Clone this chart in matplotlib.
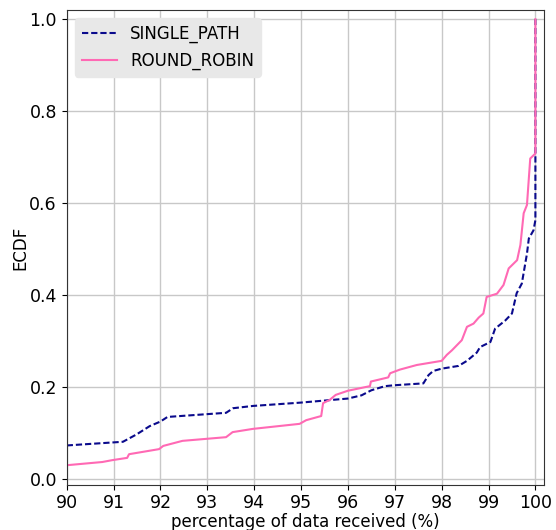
import matplotlib
matplotlib.use("Agg")
import matplotlib.pyplot as plt

# percentage of data received vs. ECDF for each scheduler
sp_x = [90.0, 91.2, 91.49, 91.77, 92.0, 92.15, 93.4, 93.55, 93.98, 94.97, 96.0, 96.29,
        96.5, 96.79, 97.0, 97.61, 97.72, 97.82, 98.0, 98.36, 98.54, 98.75, 98.82,
        99.04, 99.14, 99.36, 99.5, 99.6, 99.71, 99.82, 99.86, 99.96, 100.0, 100.0, 100.0]
sp_y = [0.073, 0.081, 0.097, 0.115, 0.125, 0.135, 0.144, 0.154, 0.159, 0.166, 0.175, 0.182,
        0.193, 0.202, 0.204, 0.208, 0.226, 0.235, 0.240, 0.246, 0.257, 0.275, 0.287,
        0.298, 0.327, 0.345, 0.360, 0.404, 0.425, 0.490, 0.523, 0.541, 0.563, 0.708, 1.0]

rr_x = [90.0, 90.76, 90.97, 91.29, 91.33, 91.97, 92.06, 92.47, 93.4, 93.54, 93.97, 94.97,
        95.11, 95.43, 95.47, 95.61, 95.74, 96.0, 96.47, 96.49, 96.86, 96.9, 97.11, 97.47,
        98.0, 98.11, 98.22, 98.43, 98.54, 98.68, 98.79, 98.89, 98.96, 99.18, 99.32, 99.43,
        99.61, 99.68, 99.75, 99.82, 99.89, 100.0, 100.0]
rr_y = [0.030, 0.037, 0.041, 0.046, 0.054, 0.065, 0.072, 0.083, 0.091, 0.102, 0.109, 0.120,
        0.128, 0.137, 0.165, 0.172, 0.183, 0.192, 0.202, 0.212, 0.221, 0.230, 0.238, 0.248,
        0.257, 0.270, 0.280, 0.302, 0.331, 0.338, 0.351, 0.360, 0.396, 0.403, 0.422, 0.458,
        0.476, 0.509, 0.578, 0.596, 0.697, 0.708, 1.0]

x_ticks = [90, 91, 92, 93, 94, 95, 96, 97, 98, 99, 100]
y_ticks = [0.0, 0.2, 0.4, 0.6, 0.8, 1.0]

fig = plt.figure(figsize=(5.56, 5.30), dpi=100)
ax = fig.add_axes([66.7 / 556, 1 - 485 / 530, (544.3 - 66.7) / 556, (485 - 10) / 530])

ax.plot(sp_x, sp_y, color="#0a0a8c", linestyle=(0, (3.0, 1.4)), linewidth=1.5,
        label="SINGLE_PATH")
ax.plot(rr_x, rr_y, color="#ff69b4", linestyle="-", linewidth=1.5,
        label="ROUND_ROBIN")

ax.set_xlim(90, 100.19)
ax.set_ylim(-0.013, 1.02)
ax.set_xticks(x_ticks)
ax.set_yticks(y_ticks)
ax.tick_params(labelsize=12.5)
ax.tick_params(axis="x", pad=3)
ax.grid(True, color="#c8c8c8", linewidth=1)
ax.set_axisbelow(True)
for s in ax.spines.values():
    s.set_color("#333333")

ax.set_xlabel("percentage of data received (%)", fontsize=12, labelpad=0.5)
ax.set_ylabel("ECDF", fontsize=12, labelpad=0)

leg = ax.legend(loc="upper left", fontsize=12, frameon=True, fancybox=True,
                handlelength=2.1)
leg.get_frame().set_facecolor("#e8e8e8")
leg.get_frame().set_edgecolor("#e8e8e8")
leg.get_frame().set_alpha(1)

fig.savefig("out.png", dpi=100)
